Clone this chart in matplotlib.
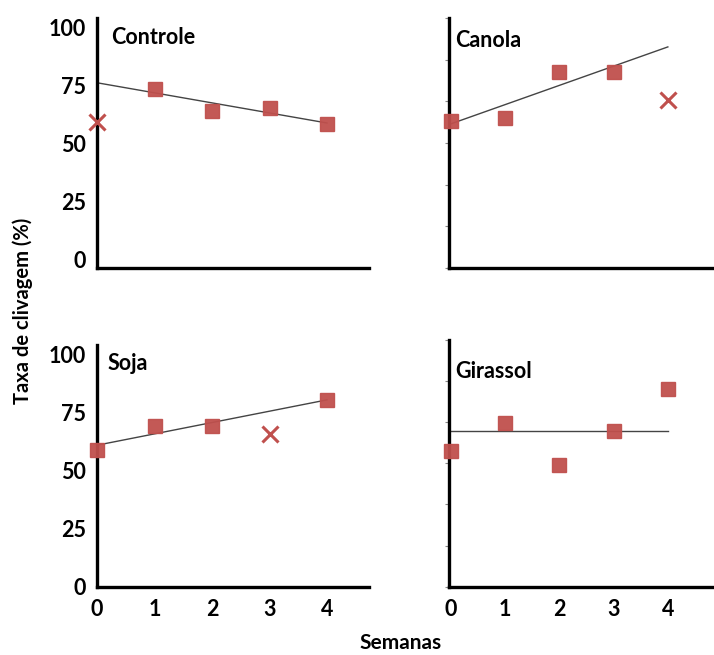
import matplotlib
matplotlib.use("Agg")
import matplotlib.pyplot as plt
import numpy as np

# ---- data ----
weeks = [0, 1, 2, 3, 4]
panel_names = ["Controle", "Canola", "Soja", "Girassol"]
controle = [59.5, 73.5, 64.2, 65.5, 58.5]
canola = [59.9, 60.9, 81.1, 81.1, 68.9]
soja = [58.9, 69.3, 69.3, 65.9, 80.6]
girassol = [58.6, 70.7, 52.5, 67.3, 85.2]
# index of outlier point drawn as "x" (None = none)
controle_out = 0
canola_out = 4
soja_out = 3
girassol_out = None
# trend line endpoints (week 0 -> week 4)
controle_trend = [76.3, 58.9]
canola_trend = [58.5, 91.8]
soja_trend = [61.0, 80.6]
girassol_trend = [67.3, 67.3]
yticks = [0, 25, 50, 75, 100]
xticks = [0, 1, 2, 3, 4]

plt.rcParams['font.family'] = ['Lato', 'DejaVu Sans']
W, H = 714, 655
fig = plt.figure(figsize=(W / 100, H / 100), dpi=100)

red = '#C0504D'

def px_axes(l, r, t, b):
    return fig.add_axes([l / W, 1 - b / H, (r - l) / W, (b - t) / H])

specs = [
    ("Controle", controle, controle_out, controle_trend, (97, 369, 18, 268), (0, 4.73), (-3.8, 104.3), True, False, (111, 38)),
    ("Canola", canola, canola_out, canola_trend, (449, 714, 18, 268), (-0.031, 4.85), (-3.8, 104.3), False, False, (455, 41)),
    ("Soja", soja, soja_out, soja_trend, (97, 369, 345, 586.7), (0, 4.73), (-0.13, 104.3), True, True, (108, 363)),
    ("Girassol", girassol, girassol_out, girassol_trend, (449, 714, 340, 586.7), (-0.031, 4.85), (-0.13, 106.5), False, True, (455, 371)),
]

for name, vals, out, trend, box, xl, yl, is_left, is_bottom, tpos in specs:
    l, r, t, b = box
    ax = px_axes(l, r, t, b)
    ax.set_xlim(*xl)
    ax.set_ylim(*yl)
    for s in ['top', 'right']:
        ax.spines[s].set_visible(False)
    for s in ['left', 'bottom']:
        ax.spines[s].set_linewidth(2.4)
        ax.spines[s].set_color('black')
    ax.patch.set_alpha(0)

    ax.plot([weeks[0], weeks[-1]], trend, color='#444444', lw=1.0, zorder=2)
    sq_x = [w for i, w in enumerate(weeks) if i != out]
    sq_y = [v for i, v in enumerate(vals) if i != out]
    ax.plot(sq_x, sq_y, 's', color=red, ms=9.5, mec=red, alpha=0.95,
            linestyle='none', zorder=3, clip_on=False)
    if out is not None:
        ax.plot([weeks[out]], [vals[out]], 'x', color=red, ms=11, mew=2.2,
                linestyle='none', zorder=3, clip_on=False)

    ax.text((tpos[0] - l) / (r - l), (b - tpos[1]) / (b - t), name,
            transform=ax.transAxes, ha='left', va='center',
            fontsize=15.5, fontweight='bold')

    if is_left:
        ax.set_yticks(yticks)
        ax.set_yticklabels([str(v) for v in yticks], fontsize=15.5, fontweight='bold')
        ax.tick_params(axis='y', length=0, pad=8)
    else:
        ax.set_yticks(np.linspace(yl[0], yl[1], 7))
        ax.set_yticklabels([])
        ax.tick_params(axis='y', length=3, width=0.8, color='#888888', direction='out')

    if is_bottom:
        ax.set_xticks(xticks)
        ax.set_xticklabels([str(v) for v in xticks], fontsize=15.5, fontweight='bold')
        ax.tick_params(axis='x', length=0, pad=9)
    else:
        ax.set_xticks([])

fig.text(23 / W, 1 - 311 / H, "Taxa de clivagem (%)", rotation=90,
         ha='center', va='center', fontsize=14.5, fontweight='bold')
fig.text(401 / W, 1 - 643 / H, "Semanas", ha='center', va='center',
         fontsize=15, fontweight='bold')

fig.savefig("out.png", dpi=100)
